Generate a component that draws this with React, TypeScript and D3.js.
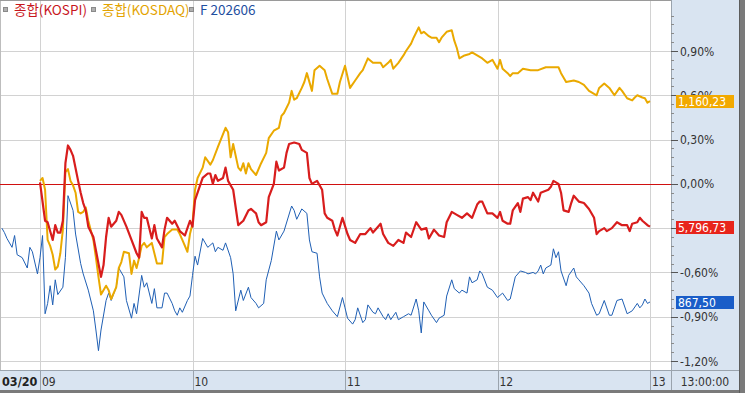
import * as d3 from "d3";

// minutes after 09:00 and % change
const kospi: [number, number][] = [
  [0, 0.01], [2, -0.25], [3, -0.26], [5, -0.38], [6, -0.28], [7, -0.33], [8, -0.33], [9, -0.25], [10, 0.14], [11, 0.26],
  [12, 0.23], [13, 0.19], [15, 0.02], [16, -0.06], [17, -0.13], [18, -0.18], [19, -0.29], [21, -0.36], [22, -0.45], [24, -0.63],
  [25, -0.55], [26, -0.36], [27, -0.23], [28, -0.29], [30, -0.25], [31, -0.19], [32, -0.21], [34, -0.29], [36, -0.38], [38, -0.47],
  [39, -0.5], [40, -0.19], [41, -0.23], [42, -0.23], [44, -0.37], [45, -0.28], [46, -0.37], [48, -0.43], [49, -0.31], [50, -0.23],
  [52, -0.27], [53, -0.25], [55, -0.32], [57, -0.35], [59, -0.25], [60, -0.29], [61, -0.11], [62, -0.06], [64, 0.04], [66, 0.07],
  [67, 0.07], [68, 0.0], [69, 0.06], [70, 0.02], [72, 0.04], [73, 0.11], [74, 0.02], [76, -0.04], [77, -0.16], [78, -0.28],
  [80, -0.25], [82, -0.18], [83, -0.17], [85, -0.2], [86, -0.26], [87, -0.28], [89, -0.26], [90, -0.09], [92, 0.0], [93, 0.15],
  [94, 0.09], [96, 0.11], [97, 0.21], [98, 0.27], [100, 0.28], [102, 0.27], [103, 0.23], [105, 0.21], [106, 0.04], [107, 0.0],
  [109, 0.02], [111, -0.04], [112, -0.2], [113, -0.23], [115, -0.25], [116, -0.31], [117, -0.35], [119, -0.23], [121, -0.34], [122, -0.38],
  [124, -0.4], [126, -0.34], [128, -0.34], [130, -0.3], [131, -0.33], [133, -0.29], [134, -0.27], [135, -0.34], [137, -0.4], [139, -0.42],
  [141, -0.38], [143, -0.4], [144, -0.33], [146, -0.36], [148, -0.26], [150, -0.31], [152, -0.3], [153, -0.37], [155, -0.31], [157, -0.35],
  [159, -0.36], [160, -0.26], [162, -0.19], [164, -0.21], [166, -0.23], [168, -0.2], [170, -0.23], [172, -0.14], [173, -0.12], [174, -0.12],
  [176, -0.2], [178, -0.2], [180, -0.23], [181, -0.19], [182, -0.25], [184, -0.27], [185, -0.27], [186, -0.18], [188, -0.13], [189, -0.19],
  [190, -0.1], [192, -0.09], [193, -0.11], [194, -0.06], [196, -0.12], [197, -0.06], [200, -0.04], [201, -0.02], [202, 0.02], [204, 0.0],
  [205, -0.06], [206, -0.18], [208, -0.19], [209, -0.13], [210, -0.08], [212, -0.12], [214, -0.13], [216, -0.17], [218, -0.23], [219, -0.34],
  [220, -0.32], [222, -0.3], [223, -0.32], [225, -0.3], [227, -0.26], [229, -0.28], [231, -0.28], [232, -0.32], [233, -0.27], [235, -0.26],
  [236, -0.23], [237, -0.25], [239, -0.28], [240, -0.29],
];

const kosdaq: [number, number][] = [
  [0, 0.02], [1, 0.04], [2, -0.04], [3, -0.38], [4, -0.42], [5, -0.48], [6, -0.58], [7, -0.56], [8, -0.47], [9, -0.31],
  [10, 0.08], [11, 0.1], [12, 0.02], [13, -0.01], [14, -0.06], [15, -0.19], [16, -0.2], [17, -0.19], [18, -0.16], [19, -0.25],
  [21, -0.38], [22, -0.5], [23, -0.63], [24, -0.75], [26, -0.69], [27, -0.72], [28, -0.78], [30, -0.7], [31, -0.57], [32, -0.53],
  [33, -0.46], [35, -0.47], [36, -0.61], [37, -0.52], [38, -0.57], [39, -0.5], [40, -0.42], [41, -0.4], [42, -0.43], [44, -0.4],
  [45, -0.47], [46, -0.54], [48, -0.54], [49, -0.36], [50, -0.34], [52, -0.31], [54, -0.31], [55, -0.34], [56, -0.38], [58, -0.46],
  [59, -0.34], [60, -0.27], [61, -0.04], [62, 0.04], [64, 0.11], [65, 0.18], [67, 0.13], [68, 0.16], [70, 0.25], [73, 0.38],
  [74, 0.35], [75, 0.18], [76, 0.27], [78, 0.11], [79, 0.09], [80, 0.14], [81, 0.07], [82, 0.14], [83, 0.1], [85, 0.06],
  [87, 0.14], [89, 0.21], [90, 0.31], [92, 0.36], [94, 0.38], [95, 0.46], [96, 0.48], [98, 0.55], [99, 0.63], [100, 0.57],
  [101, 0.58], [103, 0.65], [104, 0.69], [105, 0.75], [107, 0.63], [108, 0.77], [110, 0.8], [112, 0.77], [113, 0.71], [115, 0.61],
  [117, 0.61], [118, 0.69], [120, 0.8], [122, 0.65], [124, 0.7], [126, 0.75], [127, 0.77], [129, 0.85], [131, 0.82], [134, 0.82],
  [135, 0.79], [137, 0.82], [138, 0.84], [139, 0.78], [141, 0.82], [143, 0.87], [144, 0.9], [146, 0.95], [147, 0.99], [149, 1.06],
  [150, 1.02], [151, 1.03], [153, 1.0], [154, 0.99], [156, 0.99], [157, 0.96], [158, 0.99], [160, 1.03], [162, 1.04], [163, 0.97],
  [164, 0.92], [165, 0.85], [167, 0.87], [169, 0.88], [170, 0.89], [172, 0.87], [174, 0.85], [176, 0.82], [178, 0.84], [180, 0.78],
  [181, 0.84], [182, 0.78], [184, 0.75], [185, 0.73], [186, 0.75], [188, 0.75], [190, 0.78], [193, 0.77], [196, 0.77], [199, 0.79],
  [202, 0.79], [204, 0.79], [205, 0.75], [207, 0.69], [210, 0.7], [212, 0.69], [214, 0.67], [216, 0.63], [219, 0.6], [220, 0.65],
  [222, 0.68], [224, 0.65], [226, 0.6], [228, 0.65], [229, 0.63], [231, 0.58], [233, 0.565], [234, 0.585], [235, 0.6], [237, 0.585],
  [238, 0.58], [239, 0.55], [240, 0.56],
];

const futures: [number, number][] = [
  [-15, -0.3], [-14, -0.33], [-13, -0.37], [-11, -0.43], [-10, -0.35], [-9, -0.48], [-7, -0.5], [-5, -0.57], [-4, -0.43], [-3, -0.46],
  [-1, -0.61], [0, -0.5], [1, -0.35], [2, -0.88], [3, -0.81], [4, -0.69], [5, -0.82], [6, -0.65], [7, -0.75], [9, -0.7],
  [10, -0.5], [11, -0.08], [13, -0.18], [14, -0.34], [16, -0.54], [17, -0.61], [19, -0.72], [21, -0.86], [22, -0.99], [23, -1.13],
  [24, -0.99], [26, -0.79], [27, -0.74], [28, -0.79], [30, -0.7], [31, -0.57], [33, -0.63], [34, -0.79], [36, -0.91], [37, -0.81],
  [38, -0.88], [40, -0.62], [41, -0.7], [42, -0.67], [44, -0.81], [45, -0.71], [46, -0.84], [48, -0.84], [49, -0.74], [50, -0.74],
  [52, -0.81], [53, -0.86], [54, -0.89], [55, -0.84], [56, -0.87], [58, -0.79], [59, -0.76], [60, -0.62], [61, -0.49], [62, -0.55],
  [64, -0.37], [65, -0.4], [66, -0.43], [68, -0.4], [69, -0.46], [70, -0.43], [72, -0.45], [73, -0.4], [75, -0.5], [76, -0.61],
  [77, -0.86], [79, -0.72], [80, -0.79], [82, -0.7], [83, -0.77], [85, -0.81], [86, -0.84], [88, -0.81], [89, -0.65], [91, -0.52],
  [93, -0.32], [94, -0.38], [96, -0.32], [99, -0.15], [100, -0.18], [101, -0.24], [103, -0.17], [105, -0.2], [106, -0.38], [107, -0.46],
  [109, -0.47], [110, -0.63], [111, -0.74], [113, -0.81], [115, -0.86], [117, -0.9], [119, -0.77], [120, -0.84], [121, -0.91], [123, -0.95],
  [124, -0.92], [125, -0.84], [127, -0.94], [128, -0.92], [129, -0.82], [131, -0.87], [132, -0.88], [133, -0.84], [135, -0.9], [136, -0.92],
  [137, -0.88], [138, -0.92], [140, -0.87], [141, -0.92], [143, -0.9], [145, -0.88], [146, -0.89], [148, -0.78], [149, -0.86], [150, -1.01],
  [151, -0.8], [153, -0.86], [154, -0.89], [156, -0.94], [157, -0.91], [159, -0.89], [160, -0.76], [162, -0.65], [163, -0.71], [165, -0.74],
  [166, -0.72], [168, -0.74], [169, -0.63], [170, -0.67], [172, -0.65], [173, -0.59], [174, -0.61], [176, -0.7], [178, -0.72], [180, -0.77],
  [182, -0.74], [184, -0.79], [185, -0.78], [187, -0.63], [189, -0.59], [191, -0.6], [192, -0.61], [194, -0.6], [195, -0.61], [196, -0.59],
  [197, -0.55], [198, -0.61], [199, -0.57], [201, -0.55], [202, -0.44], [203, -0.5], [204, -0.46], [205, -0.59], [207, -0.69], [208, -0.62],
  [210, -0.57], [211, -0.63], [212, -0.65], [214, -0.69], [216, -0.74], [217, -0.81], [219, -0.89], [220, -0.88], [222, -0.79], [224, -0.89],
  [225, -0.89], [227, -0.79], [229, -0.78], [231, -0.88], [233, -0.86], [235, -0.81], [236, -0.84], [237, -0.82], [238, -0.78], [239, -0.81],
  [240, -0.8],
];

const yTicks = [0.9, 0.6, 0.3, 0, -0.3, -0.6, -0.9, -1.2];
const hourTicks = [0, 60, 120, 180, 240];
const hourLabels = ["09", "10", "11", "12", "13"];
const dateLabel = "03/20";
const timeLabel = "13:00:00";
const legendNames = ["종합(KOSPI)", "종합(KOSDAQ)", "F 202606"];
const lastPrices = ["5,796,73", "1,160,23", "867,50"];

const W = 745;
const H = 393;
const plotRight = 671;
const plotBottom = 370;
const panelRight = 739;
const numFont = "'Liberation Sans Narrow', 'DejaVu Sans Condensed', sans-serif";

const x = d3.scaleLinear().domain([0, 240]).range([40, 650]);
const y = d3.scaleLinear().domain([-1.2, 0.9]).range([361, 51]);

const line = d3
  .line<[number, number]>()
  .x((d) => x(d[0]))
  .y((d) => y(d[1]));

const fmtPct = (v: number) => v.toFixed(2).replace(".", ",") + "%";

const series = [
  { data: kospi, color: "#d81d1d", width: 2.2, text: "#c8161d" },
  { data: kosdaq, color: "#eaa900", width: 2, text: "#e3a300" },
  { data: futures, color: "#1f5fb4", width: 1, text: "#1f4fa0" },
];
const boxColors = ["#e8241b", "#f2a900", "#1a5dc8"];
const legendX = [3, 91, 189];

const minorTicks = d3.range(-21, 20).map((i) => i * 0.06).filter((v) => y(v) > 12 && y(v) < plotBottom);

export default function App() {
  return (
    <div style={{ position: "fixed", left: 0, top: 0 }}>
      <svg width={W} height={H} style={{ display: "block", background: "#fff" }}>
        {/* grid */}
        {yTicks.map((t) => (
          <line key={"h" + t} x1={0} x2={plotRight} y1={Math.round(y(t)) + 0.5} y2={Math.round(y(t)) + 0.5} stroke="#d2d2d2" />
        ))}
        {hourTicks.map((t) => (
          <line key={"v" + t} x1={Math.round(x(t)) + 0.5} x2={Math.round(x(t)) + 0.5} y1={0} y2={plotBottom} stroke="#d2d2d2" />
        ))}
        <line x1={0.5} x2={0.5} y1={0} y2={plotBottom} stroke="#bdbdbd" />
        <line x1={0} x2={plotRight} y1={0.5} y2={0.5} stroke="#9a9a9a" />
        <line x1={0} x2={plotRight} y1={Math.round(y(0)) + 0.5} y2={Math.round(y(0)) + 0.5} stroke="#d01010" />

        {/* series */}
        {series.map((s, i) => (
          <path key={i} d={line(s.data) || ""} fill="none" stroke={s.color} strokeWidth={s.width} strokeLinejoin="round" />
        )).reverse()}

        {/* legend */}
        {legendNames.map((n, i) => (
          <g key={n}>
            <rect x={legendX[i] + 0.5} y={7.5} width={4} height={4} fill="#b0b0b0" stroke="#8a8a8a" />
            <text x={legendX[i] + 11} y={15} fontSize={13.5} fill={series[i].text} fontFamily="'Noto Sans CJK KR', sans-serif">
              {n}
            </text>
          </g>
        ))}

        {/* right panel */}
        <rect x={plotRight} y={0} width={panelRight - plotRight} height={H} fill="#d9e4f1" />
        <line x1={plotRight + 0.5} x2={plotRight + 0.5} y1={0} y2={H} stroke="#9aa3ad" />
        {minorTicks.map((t, i) => (
          <line key={"m" + i} x1={plotRight} x2={plotRight + 3} y1={Math.round(y(t)) + 0.5} y2={Math.round(y(t)) + 0.5} stroke="#8a8a8a" />
        ))}
        {yTicks.map((t) => (
          <g key={"t" + t}>
            <line x1={plotRight} x2={plotRight + 7} y1={Math.round(y(t)) + 0.5} y2={Math.round(y(t)) + 0.5} stroke="#555" />
            <text x={plotRight + 9} y={y(t) + 4.5} fontSize={12} fill="#333" fontFamily={numFont}>
              {fmtPct(t)}
            </text>
          </g>
        ))}
        {series.map((s, i) => {
          const yy = y(s.data[s.data.length - 1][1]);
          return (
            <g key={"b" + i}>
              <rect x={676} y={Math.round(yy) - 6} width={58} height={13} fill={boxColors[i]} />
              <text x={678} y={Math.round(yy) + 5} fontSize={12} fill="#fff" fontFamily={numFont}>
                {lastPrices[i]}
              </text>
            </g>
          );
        })}

        {/* bottom panel */}
        <rect x={0} y={plotBottom} width={panelRight} height={H - plotBottom} fill="#d9e4f1" />
        <line x1={0} x2={panelRight} y1={plotBottom + 0.5} y2={plotBottom + 0.5} stroke="#9aa3ad" />
        <line x1={plotRight + 0.5} x2={plotRight + 0.5} y1={plotBottom} y2={H} stroke="#9aa3ad" />
        {hourTicks.map((t, i) => (
          <g key={"x" + t}>
            <line x1={Math.round(x(t)) + 0.5} x2={Math.round(x(t)) + 0.5} y1={plotBottom} y2={H} stroke="#9aa3ad" />
            <text x={x(t) + 2} y={386} fontSize={12} fill="#333" fontFamily={numFont}>
              {hourLabels[i]}
            </text>
          </g>
        ))}
        <text x={2} y={386} fontSize={12.5} fontWeight="bold" fill="#222" fontFamily={numFont}>
          {dateLabel}
        </text>
        <text x={(plotRight + panelRight) / 2} y={386} fontSize={12} fill="#333" textAnchor="middle" fontFamily={numFont}>
          {timeLabel}
        </text>
        <rect x={0} y={390} width={W} height={3} fill="#7a7a7a" />
        <rect x={panelRight} y={0} width={W - panelRight} height={H} fill="#7a7a7a" />
        <rect x={panelRight} y={0} width={1} height={H} fill="#5c5c5c" />
      </svg>
    </div>
  );
}
